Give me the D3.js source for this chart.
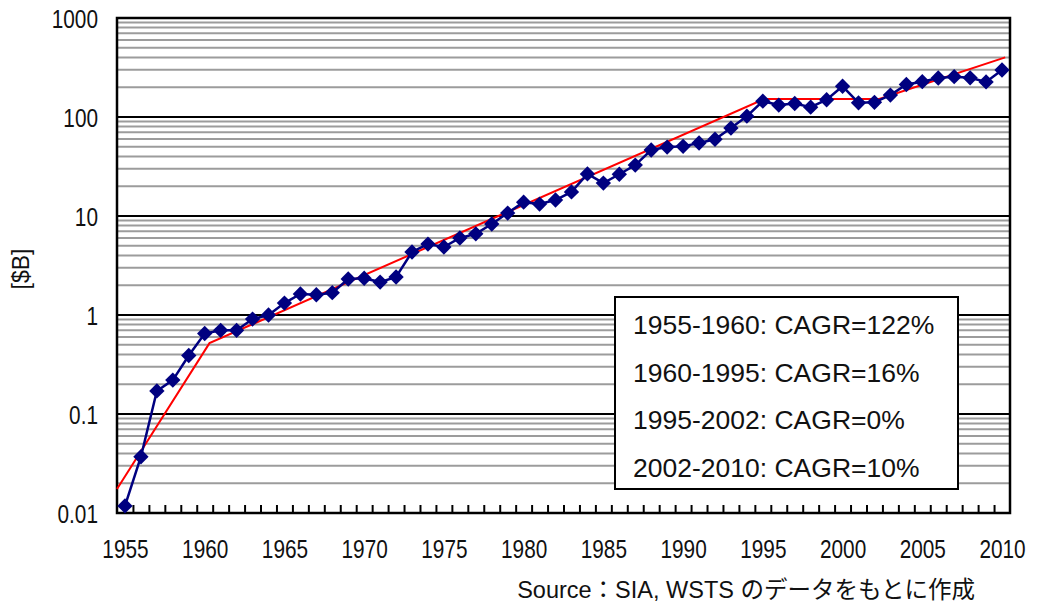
<!DOCTYPE html>
<html>
<head>
<meta charset="utf-8">
<script src="https://cdn.jsdelivr.net/npm/d3@7"></script>
<style>
  body { margin: 0; background: #fff; }
</style>
</head>
<body>
<svg id="chart" width="1037" height="611"></svg>
<script>
// market size per year [$B]
var years = d3.range(1955, 2011);
var sales = [0.0118, 0.037, 0.171, 0.22, 0.39, 0.65, 0.70, 0.70, 0.91, 1.0,
             1.32, 1.63, 1.6, 1.68, 2.31, 2.35, 2.15, 2.42, 4.33, 5.2,
             4.86, 6.0, 6.6, 8.3, 10.7, 13.8, 13.2, 14.5, 17.5, 26.6,
             21.5, 26.4, 32.7, 46.4, 49.7, 50.5, 54.6, 59.6, 77.3, 101.9,
             144.4, 132, 137, 125.6, 149.4, 204.4, 139, 140.7, 166.4, 213,
             227.5, 247.7, 255.6, 248.6, 226.3, 298.3];

// red trend line
var trendYears = [1954.5, 1960.3, 1995.1, 2002.3, 2010.2];
var trendValues = [0.0175, 0.52, 152, 152, 400];

var yTicks = [0.01, 0.1, 1, 10, 100, 1000];
var yTickLabels = ["0.01", "0.1", "1", "10", "100", "1000"];
var xLabelYears = [1955, 1960, 1965, 1970, 1975, 1980, 1985, 1990, 1995, 2000, 2005, 2010];

var legendLines = ["1955-1960: CAGR=122%", "1960-1995: CAGR=16%",
                   "1995-2002: CAGR=0%", "2002-2010: CAGR=10%"];
var sourceText = "Source\uFF1ASIA, WSTS のデータをもとに作成";

// plot area
var margin = {top: 18, right: 27, bottom: 98, left: 117},
    width = 1037 - margin.left - margin.right,
    height = 611 - margin.top - margin.bottom;

var narrow = 0.8; // tick labels use a condensed face

var svg = d3.select("#chart");
var g = svg.append("g")
    .attr("transform", "translate(" + margin.left + "," + margin.top + ")");

// each year is a category of equal width, centred on the year
var x = d3.scaleLinear()
    .domain([1954.5, 2010.5])
    .range([0, width]);
var y = d3.scaleLog()
    .domain([0.01, 1000])
    .range([height, 0]);

function tickFont(sel) {
    sel.style("font-family", "'Liberation Sans', Arial, sans-serif")
        .style("font-size", "26px")
        .style("fill", "#111");
}

// minor grid lines
var minor = y.ticks().filter(function(d) { return yTicks.indexOf(d) < 0; });
g.selectAll(".minor")
    .data(minor)
    .enter().append("line")
    .attr("class", "minor")
    .attr("x1", 0).attr("x2", width)
    .attr("y1", function(d) { return y(d); })
    .attr("y2", function(d) { return y(d); })
    .attr("stroke", "#9c9c9c")
    .attr("stroke-width", 2);

// major grid lines
g.selectAll(".major")
    .data(yTicks)
    .enter().append("line")
    .attr("class", "major")
    .attr("x1", 0).attr("x2", width)
    .attr("y1", function(d) { return y(d); })
    .attr("y2", function(d) { return y(d); })
    .attr("stroke", "#000")
    .attr("stroke-width", 2);

// x tick marks between categories, pointing up
var boundaries = d3.range(1955.5, 2010, 1);
g.append("g")
    .attr("transform", "translate(0," + height + ")")
    .call(d3.axisBottom(x).tickValues(boundaries).tickSize(-8).tickFormat(""))
    .call(function(a) {
        a.select(".domain").remove();
        a.selectAll(".tick line").attr("stroke", "#000").attr("stroke-width", 2);
    });

// x labels
g.append("g")
    .attr("transform", "translate(0," + height + ")")
    .call(d3.axisBottom(x).tickValues(xLabelYears).tickSize(0).tickPadding(27).tickFormat(d3.format("d")))
    .call(function(a) {
        a.select(".domain").remove();
        a.selectAll(".tick text")
            .call(tickFont)
            .attr("transform", "scale(" + narrow + ",1)");
    });

// y labels
g.append("g")
    .call(d3.axisLeft(y).tickValues(yTicks).tickSize(0).tickPadding(19)
        .tickFormat(function(d, i) { return yTickLabels[i]; }))
    .call(function(a) {
        a.select(".domain").remove();
        a.selectAll(".tick text")
            .call(tickFont)
            .attr("dy", "0.36em")
            .attr("x", -19 / narrow)
            .attr("transform", "scale(" + narrow + ",1)");
    });

// plot border
g.append("rect")
    .attr("width", width)
    .attr("height", height)
    .attr("fill", "none")
    .attr("stroke", "#000")
    .attr("stroke-width", 2.5);

// trend line
var trend = trendYears.map(function(d, i) { return [d, trendValues[i]]; });
g.append("path")
    .datum(trend)
    .attr("fill", "none")
    .attr("stroke", "#ff0000")
    .attr("stroke-width", 2)
    .attr("d", d3.line()
        .x(function(d) { return x(d[0]); })
        .y(function(d) { return y(d[1]); }));

// data series
var data = years.map(function(d, i) { return {year: d, value: sales[i]}; });
g.append("path")
    .datum(data)
    .attr("fill", "none")
    .attr("stroke", "#000080")
    .attr("stroke-width", 2.5)
    .attr("d", d3.line()
        .x(function(d) { return x(d.year); })
        .y(function(d) { return y(d.value); }));

g.selectAll(".dot")
    .data(data)
    .enter().append("path")
    .attr("class", "dot")
    .attr("d", d3.symbol().type(d3.symbolDiamond2).size(150))
    .attr("transform", function(d) { return "translate(" + x(d.year) + "," + y(d.value) + ")"; })
    .attr("fill", "#000080");

// legend box with CAGR notes
var legend = svg.append("g").attr("transform", "translate(615,297)");
legend.append("rect")
    .attr("width", 343)
    .attr("height", 192)
    .attr("fill", "#fff")
    .attr("stroke", "#000")
    .attr("stroke-width", 2);
legend.selectAll("text")
    .data(legendLines)
    .enter().append("text")
    .attr("x", 18)
    .attr("y", function(d, i) { return 37 + i * 47.7; })
    .attr("font-family", "Liberation Sans, Arial, sans-serif")
    .attr("font-size", 26.5)
    .attr("fill", "#111")
    .text(function(d) { return d; });

// axis title
svg.append("text")
    .attr("transform", "translate(29,269) rotate(-90)")
    .attr("text-anchor", "middle")
    .attr("font-family", "Liberation Sans, Arial, sans-serif")
    .attr("font-size", 23)
    .attr("fill", "#111")
    .text("[$B]");

// source note
svg.append("text")
    .attr("x", 975)
    .attr("y", 598)
    .attr("text-anchor", "end")
    .attr("font-family", "Liberation Sans, 'Noto Sans CJK JP', sans-serif")
    .attr("font-size", 23.5)
    .attr("fill", "#111")
    .text(sourceText);
</script>
</body>
</html>
